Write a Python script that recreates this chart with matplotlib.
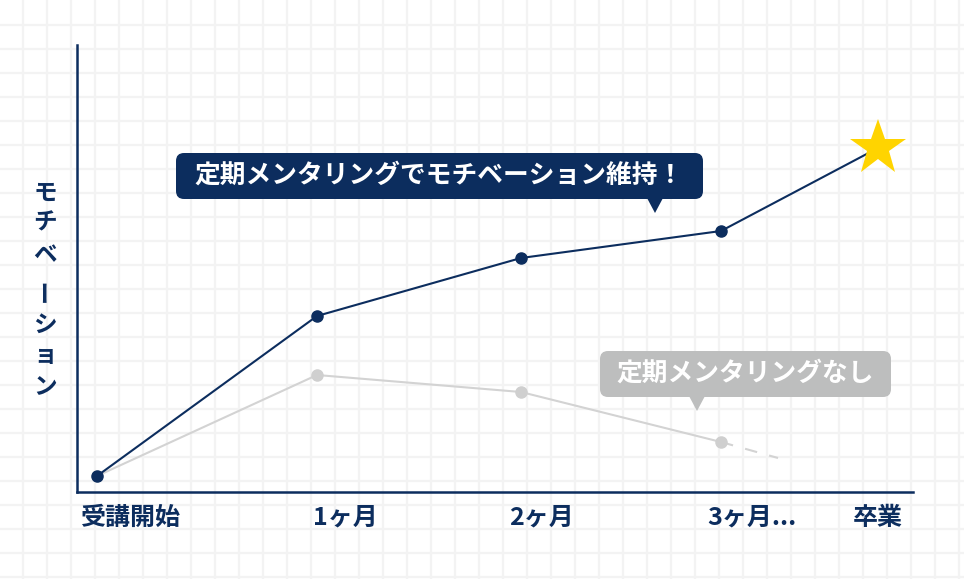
import matplotlib
matplotlib.use("Agg")
import matplotlib.pyplot as plt
from matplotlib.patches import FancyBboxPatch, Polygon

plt.rcParams['font.family'] = ['Noto Sans CJK JP', 'DejaVu Sans']

NAVY = '#0c2d5e'
GRAY = '#d3d3d3'

categories = ['受講開始', '1ヶ月', '2ヶ月', '3ヶ月...', '卒業']
cat_x = [130, 345, 541, 752, 878]
point_x = [97, 317, 521, 721]
star_x = 878
with_mentor = [16, 176, 234, 261]
star_value = 344
without_mentor = [16, 117, 100, 50]
fade_x = [721, 778]
fade_values = [50, 34]
label_with = '定期メンタリングでモチベーション維持！'
label_without = '定期メンタリングなし'
y_label = 'モチベーション'

W, H = 964, 579
fig = plt.figure(figsize=(W/100, H/100), dpi=100)

bg = fig.add_axes([0, 0, 1, 1])
bg.set_xlim(0, W); bg.set_ylim(H, 0); bg.axis('off')
for gx in range(23, W, 24):
    bg.axvline(gx, color='#f3f3f3', lw=1.6, zorder=0)
for gy in range(25, H, 24):
    bg.axhline(gy, color='#f3f3f3', lw=1.6, zorder=0)

x0, x1, ytop, ybot = 77, 913, 45, 492
ax = fig.add_axes([x0/W, 1-ybot/H, (x1-x0)/W, (ybot-ytop)/H])
ax.patch.set_alpha(0)
ax.set_xlim(x0, x1)
ax.set_ylim(0, ybot-ytop)
for s in ['top', 'right']:
    ax.spines[s].set_visible(False)
for s in ['left', 'bottom']:
    ax.spines[s].set_color(NAVY); ax.spines[s].set_linewidth(1.8)
ax.set_yticks([])
ax.set_xticks(cat_x)
ax.set_xticklabels(categories, fontsize=18, fontweight='bold', color=NAVY)
ax.tick_params(axis='x', length=0, pad=10)

ax.plot(point_x, without_mentor, color=GRAY, lw=1.5, zorder=2)
ax.plot(point_x[1:], without_mentor[1:], 'o', color='#cfcfcf', ms=8, zorder=3)
ax.plot(fade_x, fade_values, color=GRAY, lw=1.5, ls=(0, (6, 6)), zorder=2)
ax.plot(point_x + [star_x], with_mentor + [star_value], color=NAVY, lw=1.5, zorder=4)
ax.plot(point_x, with_mentor, 'o', color=NAVY, ms=8, zorder=5)
ax.plot([star_x], [star_value], marker='*', color='#ffd400', ms=42, zorder=6, markeredgewidth=0)

def bubble(xl, xr, yt, yb, tailx, taily, color, text, fs):
    box = FancyBboxPatch((xl+8, yt+8), xr-xl-16, yb-yt-16,
                         boxstyle='round,pad=8', fc=color, ec='none', zorder=5)
    bg.add_patch(box)
    bg.add_patch(Polygon([[tailx-8, yb-1], [tailx+8, yb-1], [tailx, taily]],
                         closed=True, fc=color, ec='none', zorder=5))
    bg.text((xl+xr)/2, (yt+yb)/2 - 1, text, color='white', fontsize=fs, fontweight='bold',
            ha='center', va='center', zorder=6)

bubble(176, 703, 153, 199, 655, 213, NAVY, label_with, 18.5)
bubble(600, 891, 351, 397, 697, 411, '#bdbebe', label_without, 18.5)

ys = [193, 222, 255, 290, 325, 355, 387]
for ch, yy in zip(y_label, ys):
    rot = 90 if ch == 'ー' else 0
    bg.text(45, yy, ch, color=NAVY, fontsize=17, fontweight='bold',
            ha='center', va='center', rotation=rot)

fig.savefig('out.png', dpi=100)
